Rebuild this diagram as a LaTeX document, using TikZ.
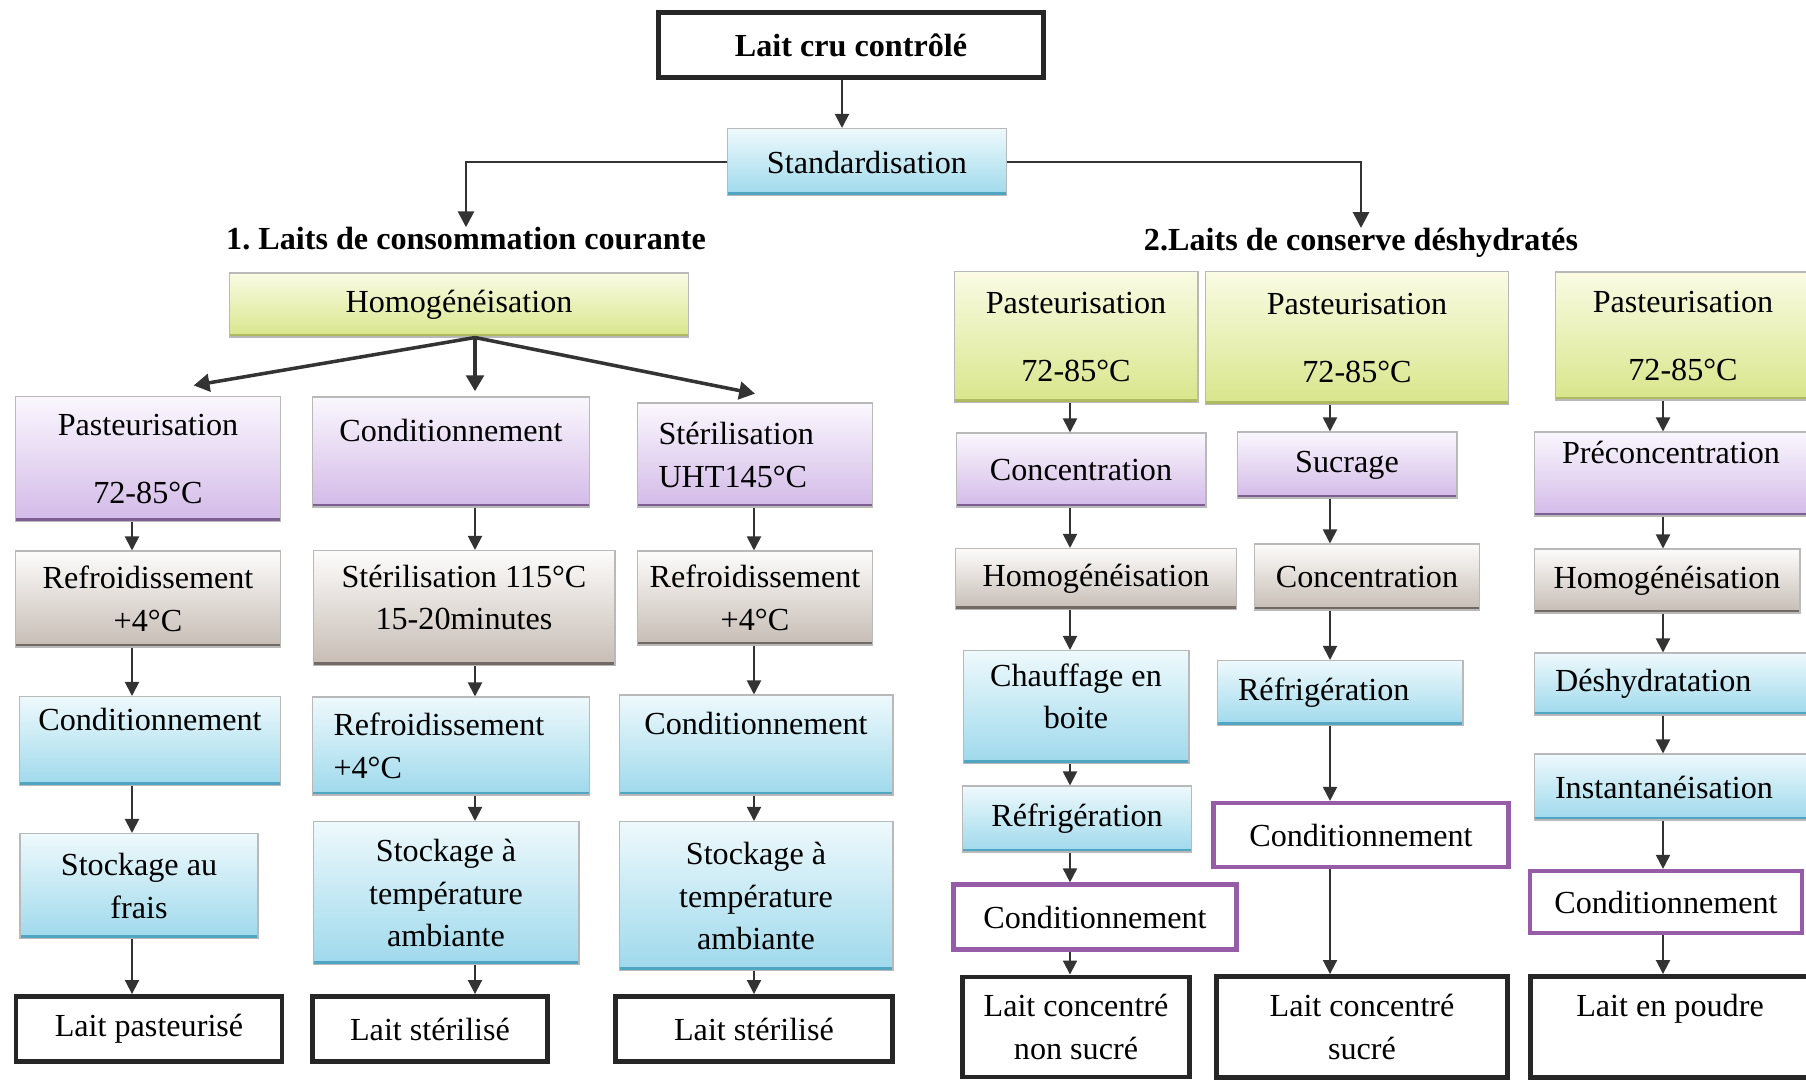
\documentclass[tikz,border=0pt]{standalone}
\usepackage{fontspec}
\setmainfont{Liberation Serif}
\usetikzlibrary{arrows.meta}
\frenchspacing

\definecolor{ylwtop}{RGB}{250,251,228}
\definecolor{ylwbot}{RGB}{216,230,138}
\definecolor{ylwedge}{RGB}{175,185,95}
\definecolor{purtop}{RGB}{250,247,253}
\definecolor{purbot}{RGB}{211,186,232}
\definecolor{puredge}{RGB}{125,95,145}
\definecolor{grytop}{RGB}{253,252,251}
\definecolor{grybot}{RGB}{198,188,180}
\definecolor{gryedge}{RGB}{115,105,100}
\definecolor{blutop}{RGB}{238,249,252}
\definecolor{blubot}{RGB}{158,217,236}
\definecolor{bluedge}{RGB}{80,165,195}
\definecolor{condpur}{RGB}{150,92,168}

\begin{document}
\begin{tikzpicture}[x=0.02cm, y=-0.02cm,
        font=\fontsize{18.3}{24.2}\selectfont,
        every node/.style={inner sep=0pt, align=center},
        sz/.style 2 args={minimum width=#1cm, minimum height=#2cm},
        lft/.style={text width=#1cm, align=left},
        shadebox/.style n args={3}{top color=#1, bottom color=#2, draw=gray!55, line width=0.6pt,
            path picture={\draw[#3, line width=3.5pt] (path picture bounding box.south west) -- (path picture bounding box.south east);}},
        ybox/.style={shadebox={ylwtop}{ylwbot}{ylwedge}},
        pbox/.style={shadebox={purtop}{purbot}{puredge}},
        gbox/.style={shadebox={grytop}{grybot}{gryedge}},
        bbox/.style={shadebox={blutop}{blubot}{bluedge}},
        endbox/.style={draw=black!85, line width=2.8pt, fill=white},
        condbox/.style={draw=condpur, line width=2.4pt, fill=white},
        flow/.style={-{Triangle[width=8pt,length=8pt]}, line width=1.1pt, black!80},
        split/.style={-{Triangle[width=10pt,length=9pt]}, line width=2pt, black!80},
        branch/.style={-{Triangle[width=9pt,length=9pt]}, line width=1.6pt, black!80}]
    \fill[white] (0,0) rectangle (1806,1082);
    \useasboundingbox (0,0) rectangle (1806,1082);

    % columns of the vertical arrows
    \coordinate (c0) at (842,0);
    \coordinate (c1) at (132,0);
    \coordinate (c2) at (475,0);
    \coordinate (c3) at (754,0);
    \coordinate (ca) at (1070,0);
    \coordinate (cb) at (1330,0);
    \coordinate (cc) at (1663,0);

    \node[endbox, line width=3pt, sz={7.7}{1.3}] (top) at (851,45) {\bfseries Lait cru contrôlé};
    \node[bbox, sz={5.58}{1.34}] (std) at (867,162) {Standardisation};
    \node (h1) at (466,239) {\bfseries 1. Laits de consommation courante};
    \node (h2) at (1361,243) {\bfseries 2.Laits de conserve déshydratés};

    % 1. laits de consommation courante
    \node[ybox, sz={9.18}{1.28}] (homog) at (459,305) {Homogénéisation};

    \node[pbox, sz={5.3}{2.5}] (l11) at (148,459) {Pasteurisation\\[14pt]72-85°C};
    \node[pbox, sz={5.54}{2.2}] (l12) at (451,452) {Conditionnement\\\mbox{}};
    \node[pbox, sz={4.7}{2.08}, lft=3.86] (l13) at (755,455) {Stérilisation\\UHT145°C};

    \node[gbox, sz={5.3}{1.92}] (l21) at (148,599) {Refroidissement\\+4°C};
    \node[gbox, sz={6.04}{2.3}] (l22) at (464,608) {Stérilisation 115°C\\15-20minutes\\[-12pt]\mbox{}};
    \node[gbox, sz={4.7}{1.88}] (l23) at (755,598) {Refroidissement\\+4°C};

    \node[bbox, sz={5.22}{1.78}] (l31) at (150,741) {Conditionnement\\\mbox{}};
    \node[bbox, sz={5.54}{1.96}, lft=4.7] (l32) at (451,746) {Refroidissement\\+4°C};
    \node[bbox, sz={5.48}{2.0}] (l33) at (756,745) {Conditionnement\\\mbox{}};

    \node[bbox, sz={4.76}{2.1}] (l41) at (139,886) {Stockage au\\frais};
    \node[bbox, sz={5.32}{2.86}] (l42) at (446,893) {Stockage à\\température\\ambiante};
    \node[bbox, sz={5.48}{2.98}] (l43) at (756,896) {Stockage à\\température\\ambiante};

    \node[endbox, sz={5.32}{1.3}] (l51) at (149,1029) {Lait pasteurisé};
    \node[endbox, sz={4.7}{1.3}] (l52) at (430,1029) {Lait stérilisé};
    \node[endbox, sz={5.54}{1.3}] (l53) at (754,1029) {Lait stérilisé};

    % 2. laits de conserve
    \node[ybox, sz={4.88}{2.62}] (ra1) at (1076,337) {Pasteurisation\\[14pt]72-85°C};
    \node[pbox, sz={5.0}{1.48}] (ra2) at (1081,470) {Concentration};
    \node[gbox, sz={5.62}{1.22}] (ra3) at (1096,579) {Homogénéisation};
    \node[bbox, sz={4.52}{2.26}] (ra4) at (1076,707) {Chauffage en\\boite\\[-12pt]\mbox{}};
    \node[bbox, sz={4.58}{1.32}] (ra5) at (1077,819) {Réfrigération};
    \node[condbox, sz={5.66}{1.3}] (ra6) at (1095,917) {Conditionnement};
    \node[endbox, sz={4.54}{2.0}] (ra7) at (1076,1027) {Lait concentré\\non sucré};

    \node[ybox, sz={6.06}{2.66}] (rb1) at (1357,338) {Pasteurisation\\[14pt]72-85°C};
    \node[pbox, sz={4.4}{1.32}] (rb2) at (1347,465) {Sucrage};
    \node[gbox, sz={4.5}{1.32}] (rb3) at (1367,577) {Concentration};
    \node[bbox, sz={4.92}{1.3}, lft=4.08] (rb4) at (1340,693) {Réfrigération};
    \node[condbox, sz={5.9}{1.28}] (rb5) at (1361,835) {Conditionnement};
    \node[endbox, sz={5.82}{2.02}] (rb6) at (1362,1027) {Lait concentré\\sucré};

    \node[ybox, sz={5.12}{2.56}] (rc1) at (1683,336) {Pasteurisation\\[14pt]72-85°C};
    \node[pbox, sz={5.48}{1.68}] (rc2) at (1671,474) {Préconcentration\\\mbox{}};
    \node[gbox, sz={5.32}{1.28}] (rc3) at (1667,581) {Homogénéisation};
    \node[bbox, sz={5.84}{1.24}, lft=5.0] (rc4) at (1680,684) {Déshydratation};
    \node[bbox, sz={5.84}{1.32}, lft=5.0] (rc5) at (1680,787) {Instantanéisation};
    \node[condbox, sz={5.44}{1.24}] (rc6) at (1666,902) {Conditionnement};
    \node[endbox, sz={5.6}{2.02}] (rc7) at (1670,1027) {Lait en poudre\\\mbox{}};

    % connectors
    \draw[branch] (std.west) -| (h1.north);
    \draw[branch] (std.east) -| (h2.north);
    \draw[split] (homog.south -| c2) -- ([xshift=26pt, yshift=6pt]l11.north);
    \draw[split] (homog.south -| c2) -- ([yshift=3pt]l12.north -| c2);
    \draw[split] (homog.south -| c2) -- ([yshift=5pt]l13.north);
    \foreach \u/\v/\c in {top/std/c0,
            l11/l21/c1, l21/l31/c1, l31/l41/c1, l41/l51/c1,
            l12/l22/c2, l22/l32/c2, l32/l42/c2, l42/l52/c2,
            l13/l23/c3, l23/l33/c3, l33/l43/c3, l43/l53/c3,
            ra1/ra2/ca, ra2/ra3/ca, ra3/ra4/ca, ra4/ra5/ca, ra5/ra6/ca, ra6/ra7/ca,
            rb1/rb2/cb, rb2/rb3/cb, rb3/rb4/cb, rb4/rb5/cb, rb5/rb6/cb,
            rc1/rc2/cc, rc2/rc3/cc, rc3/rc4/cc, rc4/rc5/cc, rc5/rc6/cc, rc6/rc7/cc}
        \draw[flow] (\u.south -| \c) -- (\v.north -| \c);
\end{tikzpicture}
\end{document}
